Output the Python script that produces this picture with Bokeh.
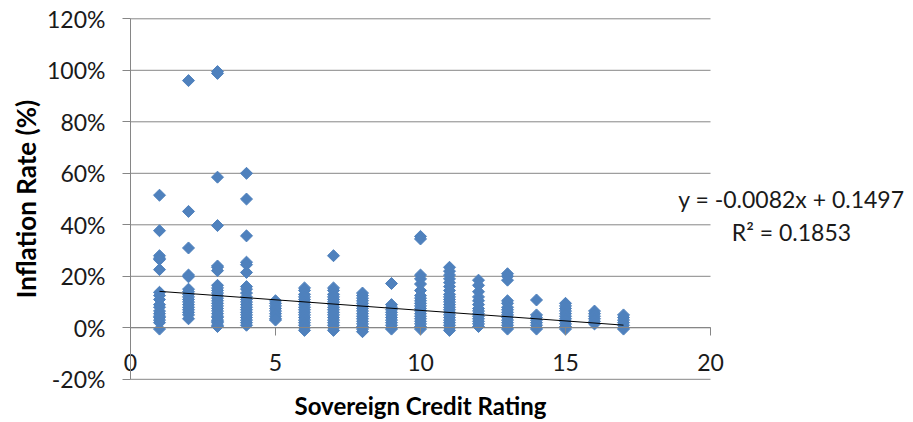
import numpy as np
from bokeh.plotting import figure
from bokeh.models import (ColumnDataSource, LinearAxis, FixedTicker, NumeralTickFormatter,
                          Label, Range1d)
from bokeh.embed import file_html
from bokeh.resources import INLINE

# ---- data ----
ratings = list(range(1, 18))
col_1 = [0.515, 0.377, 0.28, 0.27, 0.265, 0.226, 0.138, 0.125, 0.11, 0.09, 0.08, 0.065, 0.055, 0.045, 0.04, 0.03, 0.02, -0.005]
col_2 = [0.96, 0.452, 0.31, 0.205, 0.198, 0.15, 0.14, 0.13, 0.12, 0.11, 0.10, 0.09, 0.08, 0.07, 0.06, 0.05, 0.035]
col_3 = [0.995, 0.988, 0.585, 0.397, 0.24, 0.235, 0.222, 0.165, 0.155, 0.145, 0.135, 0.125, 0.115, 0.105, 0.095, 0.085, 0.075, 0.065, 0.055, 0.045, 0.04, 0.03, 0.025, 0.02, 0.01, 0.005]
col_4 = [0.60, 0.50, 0.357, 0.255, 0.245, 0.215, 0.16, 0.15, 0.135, 0.12, 0.11, 0.10, 0.09, 0.08, 0.07, 0.06, 0.05, 0.04, 0.03, 0.02, 0.01]
col_5 = [0.105, 0.095, 0.085, 0.075, 0.065, 0.055, 0.045, 0.035, 0.03]
col_6 = [0.155, 0.145, 0.13, 0.12, 0.11, 0.10, 0.09, 0.08, 0.07, 0.06, 0.05, 0.04, 0.03, 0.02, 0.01, 0.0, -0.01]
col_7 = [0.28, 0.155, 0.145, 0.13, 0.12, 0.11, 0.10, 0.09, 0.08, 0.07, 0.06, 0.05, 0.04, 0.03, 0.02, 0.01, 0.0, -0.01]
col_8 = [0.135, 0.125, 0.115, 0.105, 0.095, 0.085, 0.075, 0.065, 0.055, 0.045, 0.035, 0.025, 0.015, 0.005, -0.005, -0.015]
col_9 = [0.172, 0.09, 0.08, 0.07, 0.06, 0.05, 0.04, 0.03, 0.02, 0.01, 0.0, -0.005]
col_10 = [0.355, 0.345, 0.205, 0.19, 0.17, 0.145, 0.125, 0.115, 0.105, 0.095, 0.085, 0.075, 0.065, 0.055, 0.045, 0.035, 0.025, 0.015, 0.005, -0.005]
col_11 = [0.235, 0.22, 0.205, 0.19, 0.175, 0.16, 0.145, 0.13, 0.12, 0.11, 0.10, 0.09, 0.08, 0.07, 0.06, 0.05, 0.04, 0.03, 0.02, 0.01, 0.0, -0.01]
col_12 = [0.185, 0.165, 0.14, 0.12, 0.105, 0.09, 0.075, 0.065, 0.055, 0.045, 0.035, 0.025, 0.015, 0.005]
col_13 = [0.21, 0.2, 0.185, 0.105, 0.095, 0.08, 0.07, 0.06, 0.05, 0.04, 0.03, 0.02, 0.01, 0.0, -0.005]
col_14 = [0.108, 0.05, 0.04, 0.03, 0.02, 0.01, 0.0, -0.005]
col_15 = [0.095, 0.085, 0.075, 0.065, 0.055, 0.045, 0.035, 0.025, 0.015, 0.005, -0.005]
col_16 = [0.065, 0.055, 0.045, 0.035, 0.025, 0.015]
col_17 = [0.05, 0.04, 0.03, 0.02, 0.01, 0.0, -0.005]
columns = [col_1, col_2, col_3, col_4, col_5, col_6, col_7, col_8, col_9, col_10,
           col_11, col_12, col_13, col_14, col_15, col_16, col_17]

trend_slope = -0.0082
trend_intercept = 0.1497
r_squared = 0.1853
trend_x = [1, 17]

x_ticks = [0, 5, 10, 15, 20]
y_ticks = [-0.2, 0.0, 0.2, 0.4, 0.6, 0.8, 1.0, 1.2]
x_min, x_max = 0, 20
y_min, y_max = -0.2, 1.2
x_title = "Sovereign Credit Rating"
y_title = "Inflation Rate (%)"

xs, ys = [], []
for r, vals in zip(ratings, columns):
    xs += [r] * len(vals)
    ys += vals
src = ColumnDataSource(dict(x=xs, y=ys))

FONT = "Lato"
GRID = "#868686"
BLUE = "#4F81BD"
TXT = "#1a1a1a"

# frame covers the whole canvas; ranges chosen so the plot area sits like the original
PX_PER_X = 29.0
PX_PER_Y = 257.5
W, H = 905, 420
LEFT, TOP = 130, 18.3
x_range = Range1d(x_min - LEFT / PX_PER_X, x_min + (W - LEFT) / PX_PER_X)
y_range = Range1d(y_max - (H - TOP) / PX_PER_Y, y_max + TOP / PX_PER_Y)

p = figure(frame_width=W, frame_height=H, output_backend="svg", toolbar_location=None,
           x_range=x_range, y_range=y_range,
           x_axis_location=None, y_axis_location=None, min_border=0)
p.outline_line_color = None
p.xgrid.visible = False
p.ygrid.visible = False
p.background_fill_color = "white"
p.border_fill_color = "white"

# horizontal gridlines, limited to the plot area
p.segment(x0=[x_min] * len(y_ticks), x1=[x_max] * len(y_ticks), y0=y_ticks, y1=y_ticks,
          line_color=GRID, line_width=1)

# y axis at x = 0
yax = LinearAxis(ticker=FixedTicker(ticks=y_ticks), formatter=NumeralTickFormatter(format="0%"),
                 fixed_location=x_min, bounds=(y_min, y_max))
yax.axis_line_color = GRID
yax.major_tick_line_color = GRID
yax.major_tick_out = 8
yax.major_tick_in = 0
yax.minor_tick_line_color = None
yax.major_label_text_font = FONT
yax.major_label_text_font_size = "23px"
yax.major_label_text_color = TXT
yax.major_label_standoff = 17
p.add_layout(yax, "left")

# x axis crossing at 0%
xax = LinearAxis(ticker=FixedTicker(ticks=x_ticks), fixed_location=0, bounds=(x_min, x_max))
xax.axis_line_color = GRID
xax.major_tick_line_color = GRID
xax.major_tick_out = 8
xax.major_tick_in = 0
xax.minor_tick_line_color = None
xax.major_label_text_font = FONT
xax.major_label_text_font_size = "23px"
xax.major_label_text_color = TXT
xax.major_label_standoff = 18
p.add_layout(xax, "below")

# axis titles
p.add_layout(Label(x=(x_min + x_max) / 2, y=-0.302, text=x_title, text_align="center",
                   text_baseline="middle", text_font=FONT, text_font_style="bold",
                   text_font_size="24px", text_color="#000000"))
p.add_layout(Label(x=-3.62, y=(y_min + y_max) / 2, text=y_title, angle=np.pi / 2,
                   text_align="center", text_baseline="middle", text_font=FONT,
                   text_font_style="bold", text_font_size="26px", text_color="#000000"))

p.scatter("x", "y", source=src, marker="square", angle=np.pi / 4, size=8.5,
          fill_color=BLUE, line_color=BLUE)

trend_y = [trend_slope * x + trend_intercept for x in trend_x]
p.line(trend_x, trend_y, line_color="black", line_width=1)

eq_text = f"y = {trend_slope}x + {trend_intercept}"
r2_text = f"R\u00b2 = {r_squared}"
p.add_layout(Label(x=22.79, y=0.5, text=eq_text, text_align="center", text_baseline="middle",
                   text_font=FONT, text_font_size="23px", text_color=TXT))
p.add_layout(Label(x=22.79, y=0.372, text=r2_text, text_align="center", text_baseline="middle",
                   text_font=FONT, text_font_size="23px", text_color=TXT))

open("out.html", "w").write(file_html(p, INLINE))
